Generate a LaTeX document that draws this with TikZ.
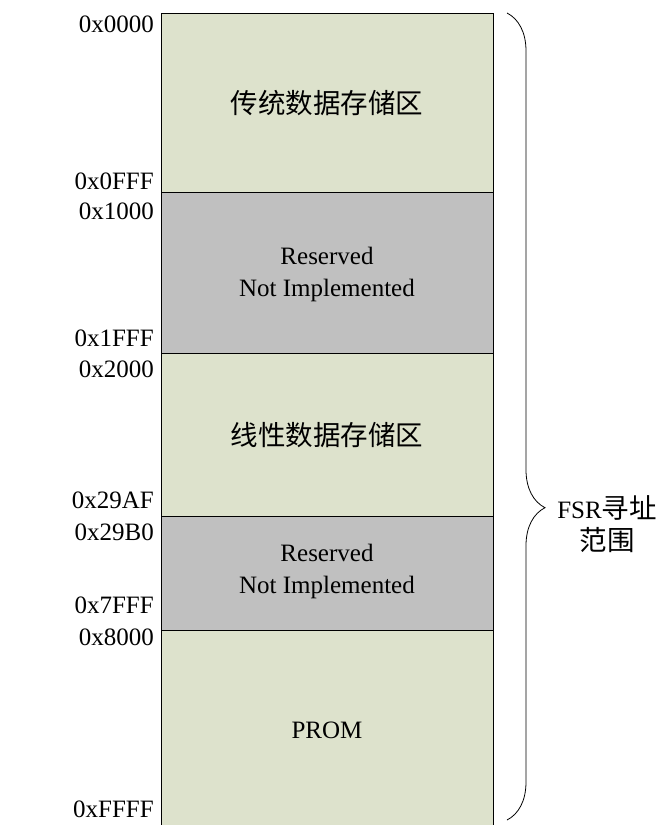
\documentclass[tikz,border=0pt]{standalone}
\usepackage{fontspec}
\setmainfont{Liberation Serif}
\newfontfamily\cjk{Noto Sans CJK SC}
\usetikzlibrary{decorations.pathreplacing}
\newcommand\zh[1]{{\cjk\fontsize{27.5}{32}\selectfont #1}}

\begin{document}
\begin{tikzpicture}[x=1pt, y=1pt, font=\fontsize{25}{32}\selectfont]

\definecolor{memg}{RGB}{221,226,204}
\definecolor{memr}{RGB}{192,192,192}

\useasboundingbox (0,-825) rectangle (670,0);

% memory blocks
\fill[memg](161,-13) rectangle (493,-825);
\fill[memr](161,-192) rectangle (493,-353);
\fill[memr](161,-516) rectangle (493,-630);

\draw[line width=1pt](161,-825)--(161,-13)--(493,-13)--(493,-825);
\foreach \y in {192,353,516,630} \draw[line width=1pt](161,-\y)--(493,-\y);

\node (trad) at (327,-103) {\zh{传统数据存储区}};
\node[align=center] (res1) at (327,-274) {Reserved\\Not Implemented};
\node (lin) at (327,-435) {\zh{线性数据存储区}};
\node[align=center] (res2) at (327,-571) {Reserved\\Not Implemented};
\node (prom) at (327,-730) {PROM};

% addresses
\foreach \t/\b [count=\i] in {0x0000/32, 0x0FFF/189, 0x1000/219, 0x1FFF/346, 0x2000/377,
  0x29AF/508, 0x29B0/540, 0x7FFF/613, 0x8000/645, 0xFFFF/817}
  \node[anchor=base east, inner sep=0pt] (addr\i) at (154,-\b) {\t};

% FSR range
\coordinate (btop) at (507,-13);
\coordinate (bbot) at (507,-820);
\draw[decorate, decoration={brace, amplitude=38pt, aspect=0.613}, line width=0.8pt] (btop) -- (bbot);
\node[align=center, inner sep=0pt] (fsr) at (607,-524) {FSR\zh{寻址}\\\zh{范围}};

\end{tikzpicture}
\end{document}
